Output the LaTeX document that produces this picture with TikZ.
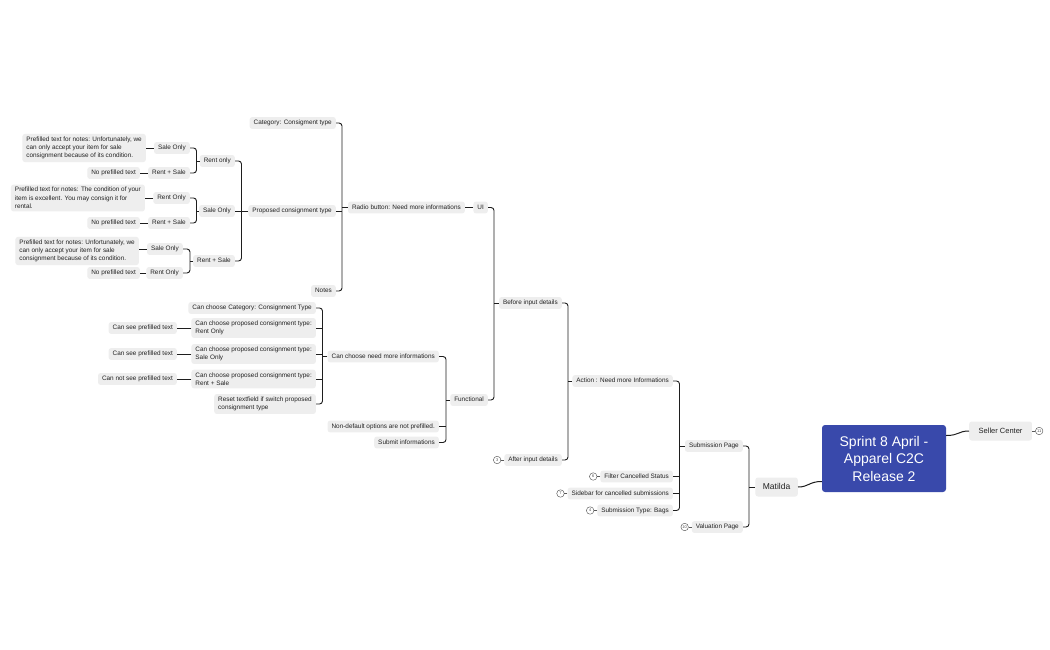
\documentclass[tikz,border=0pt]{standalone}
\usepackage{fontspec}
\setmainfont{Liberation Sans}
\definecolor{boxgray}{RGB}{238,238,238}
\definecolor{rootblue}{RGB}{57,73,171}
\definecolor{txt}{RGB}{34,34,34}
\definecolor{lincol}{RGB}{30,30,30}
\tikzset{
  box/.style={fill=boxgray, rounded corners=2.5pt, text=txt, inner xsep=4pt, inner ysep=2.8pt, font=\fontsize{6.4}{8.3}\selectfont},
  tn/.style={box, anchor=east, text height=4.8pt, text depth=1.4pt},
  tm/.style={box, anchor=east, align=left},
  conn/.style={draw=lincol, line width=0.9pt, rounded corners=3pt},
  numc/.style={circle, draw=black!65, line width=0.45pt, inner sep=0pt, minimum size=7.5pt, font=\fontsize{4}{4}\selectfont, text=black!70},
  numl/.style={draw=black!65, line width=0.5pt},
  rootbox/.style={fill=rootblue, rounded corners=3pt, text=white, minimum width=124pt, minimum height=67pt, align=center, inner sep=0pt, font=\fontsize{14}{17.5}\selectfont},
  matbox/.style={box, font=\fontsize{8.5}{10}\selectfont, inner xsep=7.5pt, minimum height=19pt, text height=6pt, text depth=1.5pt},
  scbox/.style={box, font=\fontsize{7.5}{9}\selectfont, inner xsep=9.5pt, minimum height=19pt, text height=5.4pt, text depth=1.4pt},
}
\begin{document}
\begin{tikzpicture}[x=1pt,y=-1pt]
\fill[white] (0,0) rectangle (1050,650);
\useasboundingbox (0,0) rectangle (1050,650);

% root and level 1
\node[rootbox] (root) at (884,458.5) {Sprint 8 April -\\Apparel C2C\\Release 2};
\node[scbox, anchor=west] (seller) at (969,431) {Seller Center};
\node[matbox, anchor=east] (mat) at (798,487) {Matilda};

% Matilda children
\node[tn] (subp) at (743,446) {Submission Page};
\node[tn] (valp) at (743,527) {Valuation Page};

% Submission Page children
\node[tn] (action) at (673,381) {Action : Need more Informations};
\node[tn] (filter) at (673,476.5) {Filter Cancelled Status};
\node[tn] (sidebar) at (673,493.5) {Sidebar for cancelled submissions};
\node[tn] (bags) at (673,510.5) {Submission Type: Bags};

% Action children
\node[tn] (before) at (562,303) {Before input details};
\node[tn] (after) at (562,460) {After input details};

% Before input children
\node[tn] (ui) at (488,207.5) {UI};
\node[tn] (func) at (488,400) {Functional};

\node[tn] (radio) at (465,207.5) {Radio button: Need more informations};

% Radio children
\node[tn] (cat) at (336,123) {Category: Consigment type};
\node[tn] (prop) at (336,211) {Proposed consignment type};
\node[tn] (notes) at (336,291) {Notes};

% Proposed children
\node[tn] (rentonly) at (235,161) {Rent only};
\node[tn] (saleonly) at (235,211) {Sale Only};
\node[tn] (rentsale) at (235,261) {Rent + Sale};

\node[tn] (a1) at (190,148) {Sale Only};
\node[tn] (a2) at (190,173) {Rent + Sale};
\node[tn] (b1) at (190,198) {Rent Only};
\node[tn] (b2) at (190,223) {Rent + Sale};
\node[tn] (c1) at (183,249) {Sale Only};
\node[tn] (c2) at (183,273) {Rent Only};

\node[tm] (pa1) at (146,148) {Prefilled text for notes: Unfortunately, we\\can only accept your item for sale\\consignment because of its condition.};
\node[tn] (na2) at (140,173) {No prefilled text};
\node[tm] (pb1) at (145,198) {Prefilled text for notes: The condition of your\\item is excellent. You may consign it for\\rental.};
\node[tn] (nb2) at (140,223) {No prefilled text};
\node[tm] (pc1) at (139,251) {Prefilled text for notes: Unfortunately, we\\can only accept your item for sale\\consignment because of its condition.};
\node[tn] (nc2) at (140,273) {No prefilled text};

% Functional children
\node[tn] (canneed) at (439,356.5) {Can choose need more informations};
\node[tn] (nondef) at (439,426.5) {Non-default options are not prefilled.};
\node[tn] (submit) at (439,442.5) {Submit informations};

\node[tn] (cc1) at (316,308) {Can choose Category: Consignment Type};
\node[tm] (cc2) at (316,328) {Can choose proposed consignment type:\\Rent Only};
\node[tm] (cc3) at (316,354) {Can choose proposed consignment type:\\Sale Only};
\node[tm] (cc4) at (316,379) {Can choose proposed consignment type:\\Rent + Sale};
\node[tm] (cc5) at (316,404) {Reset textfield if switch proposed\\consignment type};

\node[tn] (see2) at (177,328) {Can see prefilled text};
\node[tn] (see3) at (177,354) {Can see prefilled text};
\node[tn] (see4) at (177,379) {Can not see prefilled text};

% numbered circles
\node[numc] (nAfter) at ([xshift=-7pt]after.west) {3};
\node[numc] (nFilter) at ([xshift=-7pt]filter.west) {6};
\node[numc] (nSide) at ([xshift=-7pt]sidebar.west) {7};
\node[numc] (nBags) at ([xshift=-7pt]bags.west) {4};
\node[numc] (nVal) at ([xshift=-7pt]valp.west) {10};
\node[numc] (nSell) at ([xshift=7pt]seller.east) {11};
\draw[numl] (after.west) -- (nAfter.east);
\draw[numl] (filter.west) -- (nFilter.east);
\draw[numl] (sidebar.west) -- (nSide.east);
\draw[numl] (bags.west) -- (nBags.east);
\draw[numl] (valp.west) -- (nVal.east);
\draw[numl] (seller.east) -- (nSell.west);

% spines
\coordinate (sM) at (749,0);
\coordinate (sS) at (679.5,0);
\coordinate (sA) at (568,0);
\coordinate (sB) at (494,0);
\coordinate (sR) at (342,0);
\coordinate (sP) at (241.5,0);
\coordinate (sRO) at (196.5,0);
\coordinate (sRS) at (190,0);
\coordinate (sF) at (446,0);
\coordinate (sC) at (322.5,0);

% root connectors
\draw[draw=lincol, line width=1pt] ([yshift=23pt]root.east) .. controls +(13,0) and +(-11,0) .. (seller.west);
\draw[draw=lincol, line width=1pt] ([yshift=-23pt]root.west) .. controls +(-13,0) and +(11,0) .. (mat.east);

% Matilda
\draw[conn] (subp.east) -- (subp.east -| sM) -- (valp.east -| sM) -- (valp.east);
\draw[conn] (mat.west) -- (mat.west -| sM);

% Submission Page
\draw[conn] (action.east) -- (action.east -| sS) -- (bags.east -| sS) -- (bags.east);
\draw[conn] (filter.east) -- (filter.east -| sS);
\draw[conn] (sidebar.east) -- (sidebar.east -| sS);
\draw[conn] (subp.west) -- (subp.west -| sS);

% Action
\draw[conn] (before.east) -- (before.east -| sA) -- (after.east -| sA) -- (after.east);
\draw[conn] (action.west) -- (action.west -| sA);

% Before input details
\draw[conn] (ui.east) -- (ui.east -| sB) -- (func.east -| sB) -- (func.east);
\draw[conn] (before.west) -- (before.west -| sB);

% UI
\draw[conn] (ui.west) -- (radio.east);

% Radio
\draw[conn] (cat.east) -- (cat.east -| sR) -- (notes.east -| sR) -- (notes.east);
\draw[conn] (prop.east) -- (prop.east -| sR);
\draw[conn] (radio.west) -- (radio.west -| sR);

% Proposed
\draw[conn] (rentonly.east) -- (rentonly.east -| sP) -- (rentsale.east -| sP) -- (rentsale.east);
\draw[conn] (saleonly.east) -- (saleonly.east -| sP);
\draw[conn] (prop.west) -- (prop.west -| sP);

% Rent only / Sale Only / Rent + Sale
\draw[conn] (a1.east) -- (a1.east -| sRO) -- (a2.east -| sRO) -- (a2.east);
\draw[conn] (rentonly.west) -- (rentonly.west -| sRO);
\draw[conn] (b1.east) -- (b1.east -| sRO) -- (b2.east -| sRO) -- (b2.east);
\draw[conn] (saleonly.west) -- (saleonly.west -| sRO);
\draw[conn] (c1.east) -- (c1.east -| sRS) -- (c2.east -| sRS) -- (c2.east);
\draw[conn] (rentsale.west) -- (rentsale.west -| sRS);

\draw[conn] (a1.west) -- (a1.west -| pa1.east);
\draw[conn] (a2.west) -- (na2.east);
\draw[conn] (b1.west) -- (b1.west -| pb1.east);
\draw[conn] (b2.west) -- (nb2.east);
\draw[conn] (c1.west) -- (c1.west -| pc1.east);
\draw[conn] (c2.west) -- (nc2.east);

% Functional
\draw[conn] (canneed.east) -- (canneed.east -| sF) -- (submit.east -| sF) -- (submit.east);
\draw[conn] (nondef.east) -- (nondef.east -| sF);
\draw[conn] (func.west) -- (func.west -| sF);

% Can choose need more informations
\draw[conn] (cc1.east) -- (cc1.east -| sC) -- (cc5.east -| sC) -- (cc5.east);
\draw[conn] (cc2.east) -- (cc2.east -| sC);
\draw[conn] (cc3.east) -- (cc3.east -| sC);
\draw[conn] (cc4.east) -- (cc4.east -| sC);
\draw[conn] (canneed.west) -- (canneed.west -| sC);

\draw[conn] (cc2.west) -- (see2.east);
\draw[conn] (cc3.west) -- (see3.east);
\draw[conn] (cc4.west) -- (see4.east);
\end{tikzpicture}
\end{document}
